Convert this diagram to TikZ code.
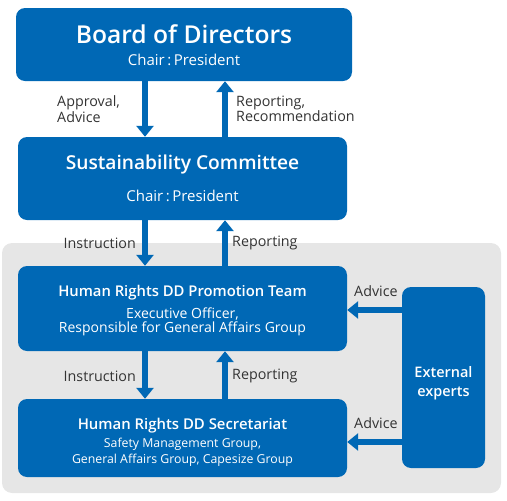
\documentclass[tikz,border=0pt]{standalone}
\usepackage{fontspec}
\setmainfont{Open Sans}[BoldFont={Open Sans Semibold}]
\usetikzlibrary{arrows.meta, positioning}
\definecolor{cblue}{HTML}{0068B5}
\definecolor{cback}{HTML}{E6E6E6}
\definecolor{ctext}{HTML}{333333}
\newcommand{\chairpres}{Chair\thinspace:\thinspace President}
\tikzset{
  every picture/.style={x=1pt, y=-1pt},
  unit/.style={fill=cblue, text=white, rounded corners=9pt, align=center, inner sep=0pt},
  flow/.style={-{Triangle[length=11pt, width=17pt]}, draw=cblue, line width=6pt},
  tag/.style={text=ctext, font=\fontsize{14.3}{15.5}\selectfont, inner sep=0pt},
}
\begin{document}
\begin{tikzpicture}
  \useasboundingbox (0,0) rectangle (507,501);
  % grey area for the human rights DD organisation
  \fill[cback, rounded corners=10pt] (2,243) rectangle (501,493);
  % boxes
  \node[unit, minimum width=336pt, minimum height=73pt, font=\fontsize{15}{15}\selectfont] (board) at (184,44.5)
    {\rule{0pt}{21pt}{\fontsize{24.6}{22}\selectfont\bfseries Board of Directors}\\[7pt] \chairpres};
  \node[unit, minimum width=329pt, minimum height=83pt, font=\fontsize{15}{15}\selectfont] (sust) at (182.5,178.5)
    {{\fontsize{19.2}{18}\selectfont\bfseries Sustainability Committee}\\[15pt] \chairpres};
  \node[unit, minimum width=329pt, minimum height=85pt, font=\fontsize{14}{14}\selectfont] (promo) at (182.5,308.5)
    {\rule{0pt}{15.5pt}{\fontsize{14.8}{14}\selectfont\bfseries Human Rights DD Promotion Team}\\[7pt]
     Executive Officer,\\ Responsible for General Affairs Group};
  \node[unit, minimum width=329pt, minimum height=78pt, font=\fontsize{12.3}{16}\selectfont] (secr) at (182.5,438)
    {\rule{0pt}{20pt}{\fontsize{14.9}{14}\selectfont\bfseries Human Rights DD Secretariat}\\[2pt]
     Safety Management Group,\\ General Affairs Group, Capesize Group};
  \node[unit, minimum width=83pt, minimum height=181pt, font=\fontsize{14.5}{19}\selectfont\bfseries] (ext) at (443.5,377.5)
    {\rule{0pt}{23pt}External\\ experts};
  % arrow columns
  \coordinate (dn) at (145,0);
  \coordinate (up) at (225,0);
  \coordinate (adv1) at (0,310);
  \coordinate (adv2) at (0,442);
  \draw[flow] (board.south -| dn) -- (sust.north -| dn);
  \draw[flow] (sust.north -| up) -- (board.south -| up);
  \draw[flow] (sust.south -| dn) -- (promo.north -| dn);
  \draw[flow] (promo.north -| up) -- (sust.south -| up);
  \draw[flow] (promo.south -| dn) -- (secr.north -| dn);
  \draw[flow] (secr.north -| up) -- (promo.south -| up);
  \draw[flow] (ext.west |- adv1) -- (promo.east |- adv1);
  \draw[flow] (ext.west |- adv2) -- (secr.east |- adv2);
  % labels
  \node[tag, anchor=west, align=left] (appr) at (57,109) {Approval,\\ Advice};
  \node[tag, anchor=west, align=left] (repr) at (236,109) {Reporting,\\ Recommendation};
  \node[tag, anchor=east] (inst1) at (136,243) {Instruction};
  \node[tag, anchor=west] (rep1) at (232,243) {Reporting};
  \node[tag, anchor=east] (inst2) at (136,376) {Instruction};
  \node[tag, anchor=west] (rep2) at (232,376) {Reporting};
  \node[tag, anchor=west] (adv1t) at (354,291) {Advice};
  \node[tag, anchor=west] (adv2t) at (354,423) {Advice};
\end{tikzpicture}
\end{document}
